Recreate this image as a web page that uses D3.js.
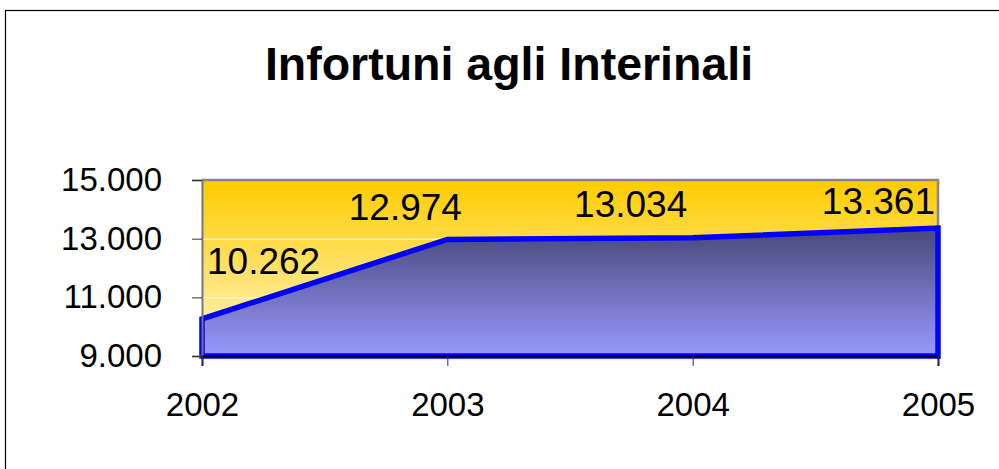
<!DOCTYPE html>
<html>

<head>
    <meta charset="utf-8">
    <title>Infortuni agli Interinali</title>
    <style>
        body { margin: 0; background: #fff; }
        svg text { font-family: "Liberation Sans", Arial, sans-serif; }
    </style>
</head>

<body>
    <script src="https://cdn.jsdelivr.net/npm/d3@7/dist/d3.min.js"></script>
    <script>
    // data
    let years = ['2002', '2003', '2004', '2005'];
    let infortuni = [10262, 12974, 13034, 13361];
    let yTicks = [9000, 11000, 13000, 15000];

    // label nudges (pixels) so the numbers sit like the original
    let labelDx = [5, -42, -62, -3];
    let labelDy = [-45, -19, -21, -14];
    let labelAnchor = ['start', 'middle', 'middle', 'end'];

    let width = 999,
        height = 469;

    let svg = d3.select('body').append('svg').attr('width', width).attr('height', height);

    // plot area
    let plot = { left: 202, right: 938, top: 180, bottom: 356 };

    let xScale = d3.scalePoint()
        .domain(years)
        .range([plot.left, plot.right]);

    let yScale = d3.scaleLinear()
        .domain([9000, 15000])
        .range([plot.bottom, plot.top]);

    let fmt = v => d3.format(',')(v).replace(/,/g, '.');

    // gradients
    let defs = svg.append('defs');
    let bg = defs.append('linearGradient').attr('id', 'bgGrad')
        .attr('x1', 0).attr('y1', 0).attr('x2', 0).attr('y2', 1);
    bg.append('stop').attr('offset', '0%').attr('stop-color', '#ffcc00');
    bg.append('stop').attr('offset', '100%').attr('stop-color', '#fff6cc');

    let ag = defs.append('linearGradient').attr('id', 'areaGrad')
        .attr('x1', 0).attr('y1', 0).attr('x2', 0).attr('y2', 1);
    ag.append('stop').attr('offset', '0%').attr('stop-color', '#48487a');
    ag.append('stop').attr('offset', '100%').attr('stop-color', '#9999ff');

    // outer frame
    svg.append('rect')
        .attr('x', 5.5).attr('y', 10.5)
        .attr('width', width + 20).attr('height', height + 20)
        .attr('fill', 'none').attr('stroke', '#000').attr('stroke-width', 1.2);

    // title
    svg.append('text')
        .attr('x', 509).attr('y', 80)
        .attr('text-anchor', 'middle')
        .attr('font-size', 46.5).attr('font-weight', 'bold')
        .text('Infortuni agli Interinali');

    // background of plot
    svg.append('rect')
        .attr('x', plot.left).attr('y', plot.top)
        .attr('width', plot.right - plot.left).attr('height', plot.bottom - plot.top)
        .attr('fill', 'url(#bgGrad)');

    // gridlines
    svg.selectAll('.grid')
        .data(yTicks.slice(1, -1))
        .enter()
        .append('line')
        .attr('class', 'grid')
        .attr('x1', plot.left).attr('x2', plot.right)
        .attr('y1', d => yScale(d) + 0.5).attr('y2', d => yScale(d) + 0.5)
        .attr('stroke', '#fff').attr('stroke-width', 1);

    // plot border (top, right)
    svg.append('path')
        .attr('d', 'M' + plot.left + ',' + plot.top + 'H' + plot.right + 'V' + plot.bottom)
        .attr('fill', 'none').attr('stroke', '#888').attr('stroke-width', 2.5);

    // area
    let area = d3.area()
        .x((d, i) => xScale(years[i]))
        .y0(yScale(9000))
        .y1(d => yScale(d));

    svg.append('path')
        .datum(infortuni)
        .attr('d', d => area(d) )
        .attr('fill', 'url(#areaGrad)')
        .attr('stroke', '#0000ff')
        .attr('stroke-width', 5.5)
        .attr('stroke-linejoin', 'miter');

    // axes
    let yAxis = d3.axisLeft(yScale)
        .tickValues(yTicks)
        .tickFormat(fmt)
        .tickSize(10)
        .tickPadding(30);

    let xAxis = d3.axisBottom(xScale)
        .tickSize(10)
        .tickPadding(27);

    let gy = svg.append('g')
        .attr('transform', 'translate(' + plot.left + ',0)')
        .call(yAxis);
    gy.select('.domain').attr('stroke', '#777').attr('stroke-width', 2);
    gy.selectAll('.tick line').attr('stroke', '#333');
    gy.selectAll('text').attr('font-size', 33).attr('fill', '#000')
        .style('font-family', '"Liberation Sans", Arial, sans-serif');

    let gx = svg.append('g')
        .attr('transform', 'translate(0,' + plot.bottom + ')')
        .call(xAxis);
    gx.select('.domain').attr('stroke', '#000033').attr('stroke-width', 2);
    gx.selectAll('.tick line').attr('stroke', '#333');
    gx.selectAll('text').attr('font-size', 33).attr('fill', '#000')
        .style('font-family', '"Liberation Sans", Arial, sans-serif');

    // data labels
    svg.selectAll('.MyText')
        .data(infortuni)
        .enter()
        .append('text')
        .attr('class', 'MyText')
        .attr('x', (d, i) => xScale(years[i]) + labelDx[i])
        .attr('y', d => yScale(d))
        .attr('dy', (d, i) => labelDy[i])
        .attr('text-anchor', (d, i) => labelAnchor[i])
        .attr('font-size', 37)
        .text(d => fmt(d));
    </script>
</body>

</html>
